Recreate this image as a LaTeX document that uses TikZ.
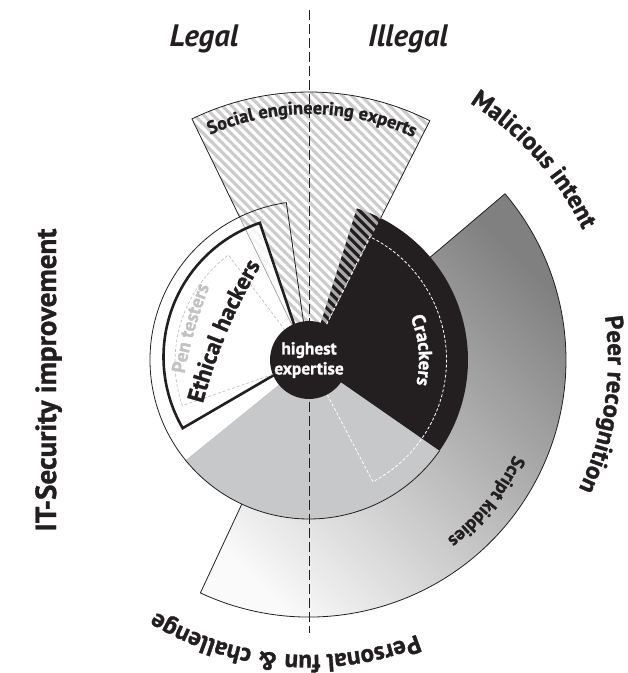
\documentclass[tikz,border=0pt]{standalone}
\usepackage{fontspec}
\setmainfont{PT Sans}[BoldFeatures={FakeBold=1.2}]
\usetikzlibrary{decorations.text}
\definecolor{ink}{RGB}{35,31,32}
\definecolor{midgrey}{RGB}{199,200,202}
\definecolor{stripe}{gray}{0.76}
\definecolor{skdark}{gray}{0.50}
\definecolor{sklight}{gray}{0.98}
\definecolor{pent}{gray}{0.76}
\def\fOut{\fontsize{25}{30}\selectfont\bfseries}
\def\fIT{\fontsize{29}{34}\selectfont\bfseries}
\def\fLeg{\fontsize{31}{36}\selectfont\bfseries\itshape}
\def\fSE{\fontsize{18.4}{22}\selectfont\bfseries}
\def\fHub{\fontsize{17.4}{20}\selectfont\bfseries}
\def\fCr{\fontsize{19}{22}\selectfont\bfseries}
\def\fSK{\fontsize{18.8}{22}\selectfont\bfseries}
\def\fEH{\fontsize{23.5}{26}\selectfont\bfseries}
\def\fPT{\fontsize{19}{22}\selectfont\bfseries}
\begin{document}
\begin{tikzpicture}[x=1pt,y=1pt,
  thinline/.style={line width=0.8pt, draw=ink},
  arclabel/.style={decorate, decoration={text along path, text align=center, text={#1}}}]
\useasboundingbox (0,0) rectangle (628,673);
\begin{scope}[shift={(309,313)}]
  % script kiddies outer sector
  \shade[top color=skdark, bottom color=sklight, shading angle=-45]
    (0,0) -- (-115:257) arc[start angle=-115, end angle=40.3, radius=257] -- cycle;
  \draw[thinline] (0,0) -- (-115:257) arc[start angle=-115, end angle=40.3, radius=257] -- cycle;
  % social engineering sector (white base)
  \fill[white] (0,0) -- (115.9:268) arc[start angle=115.9, end angle=63.2, radius=268] -- cycle;
  % main disc
  \fill[midgrey] (0,0) -- (-141:159) arc[start angle=-141, end angle=-34.8, radius=159] -- cycle;
  \fill[ink] (0,0) -- (-34.8:159) arc[start angle=-34.8, end angle=72.5, radius=159] -- cycle;
  \fill[white] (0,0) -- (98.2:159) arc[start angle=98.2, end angle=219, radius=159] -- cycle;
  \draw[thinline] (219:159) arc[start angle=219, end angle=325.2, radius=159];
  % stripes of social engineering experts
  \begin{scope}
    \clip (0,0) -- (115.9:268) arc[start angle=115.9, end angle=63.2, radius=268] -- cycle;
    \foreach \i in {-3,...,42}
      \draw[stripe, line width=3.1pt, draw opacity=0.85] (\i*9.3+30,-30) -- (\i*9.3-320,320);
  \end{scope}
  % ethical hackers fill
  \fill[white, fill opacity=0.85] (-4,3) -- +(108.6:141.5) arc[start angle=108.6, end angle=210.2, radius=141.5] -- cycle;
  % social engineering edges
  \draw[line width=0.7pt, draw=gray!75] (115.9:38) -- (115.9:159);
  \draw[thinline] (115.9:159) -- (115.9:268) arc[start angle=115.9, end angle=63.2, radius=268] -- (63.2:159);
  % white sector outline
  \draw[thinline] (98.2:38) -- (98.2:159) arc[start angle=98.2, end angle=219, radius=159];
  % ethical hackers outline
  \draw[line width=2.6pt, draw=ink] (-4,3) -- +(108.6:141.5) arc[start angle=108.6, end angle=210.2, radius=141.5] -- cycle;
  % pen testers
  \draw[pent, line width=0.7pt, dash pattern=on 3pt off 2pt] (0,-2) -- +(127:134) arc[start angle=127, end angle=199, radius=134] -- cycle;
  % crackers dashed sub-sector
  \draw[white, line width=0.8pt, dash pattern=on 3pt off 2pt] (0,0) -- (63.7:137.5) arc[start angle=63.7, end angle=-62.3, radius=137.5] -- cycle;
\end{scope}
% legal / illegal divider
\coordinate (divtop) at (309,663);
\coordinate (divbot) at (309,40);
\draw[ink, line width=0.9pt, dash pattern=on 10pt off 4pt] (divtop) -- (divbot);
% hub
\node[circle, fill=ink, minimum size=76pt, inner sep=0pt, text=white, align=center, font=\fHub] (hub) at (309,313) {highest\\expertise};
% labels along arcs
\begin{scope}[shift={(309,313)}]
  \path[arclabel={|\fOut\color{ink}|Malicious intent}] (81.7:303) arc[start angle=81.7, end angle=1.7, radius=303];
  \path[arclabel={|\fOut\color{ink}|Peer recognition}] (31.4:299) arc[start angle=31.4, end angle=-48.6, radius=299];
  \path[arclabel={|\fOut\color{ink}|Personal fun {\&} challenge}] (-44.9:295) arc[start angle=-44.9, end angle=-144.9, radius=295];
  \path[arclabel={|\fSE\color{ink}|Social engineering experts}] (129.3:246) arc[start angle=129.3, end angle=49.3, radius=246];
  \path[arclabel={|\fSK\color{ink}|Script kiddies}] (1.4:226) arc[start angle=1.4, end angle=-78.6, radius=226];
  \path[arclabel={|\fCr\color{white}|Crackers}] (45:110) arc[start angle=45, end angle=-35, radius=110];
\end{scope}
\coordinate (ehA) at (198.5,253.5);
\coordinate (ehB) at (269,422);
\path[arclabel={|\fEH\color{ink}|Ethical hackers}] (ehA) to[bend left=8] (ehB);
\coordinate (ptA) at (181.7,284);
\coordinate (ptB) at (215,400.8);
\path[arclabel={|\fPT\color{pent}|Pen testers}] (ptA) to[bend left=6] (ptB);
\node[rotate=90, anchor=base, font=\fIT, text=ink] (itsec) at (56,293) {IT-Security improvement};
\node[anchor=base, font=\fLeg, text=ink] (legal) at (204,626) {Legal};
\node[anchor=base, font=\fLeg, text=ink] (illegal) at (408,626) {Illegal};
\end{tikzpicture}
\end{document}
